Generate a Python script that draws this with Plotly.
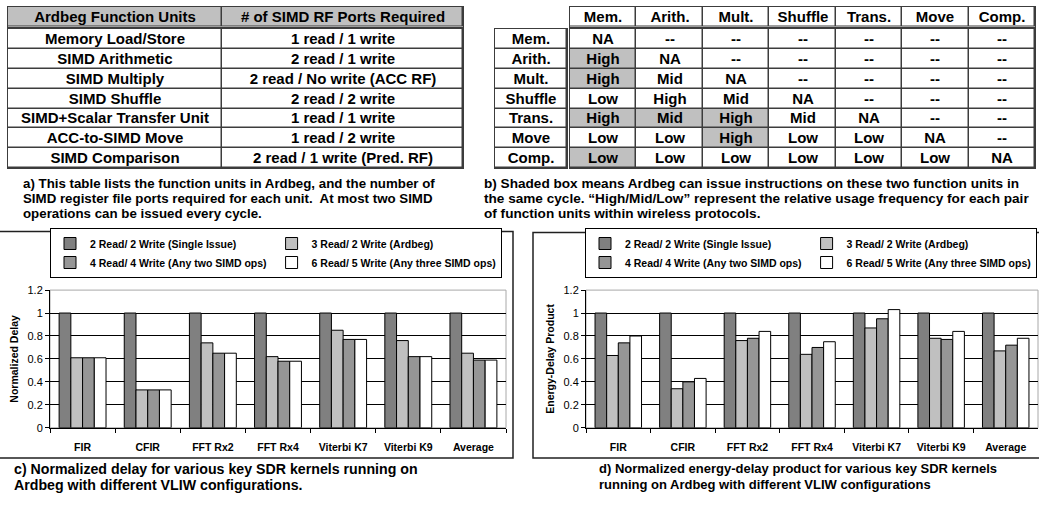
import numpy as np
import plotly.graph_objects as go

W, H = 1039, 506
FONT = "Liberation Sans, Arial, sans-serif"

# ---------------- data ----------------
kernels = ["FIR", "CFIR", "FFT Rx2", "FFT Rx4", "Viterbi K7", "Viterbi K9", "Average"]
series_names = [
    "2 Read/ 2 Write (Single Issue)",
    "3 Read/ 2 Write (Ardbeg)",
    "4 Read/ 4 Write (Any two SIMD ops)",
    "6 Read/ 5 Write (Any three SIMD ops)",
]
series_colors = ["#808080", "#c0c0c0", "#969696", "#ffffff"]

delay_2r2w = [1.00, 1.00, 1.00, 1.00, 1.00, 1.00, 1.00]
delay_3r2w = [0.61, 0.33, 0.74, 0.62, 0.85, 0.76, 0.65]
delay_4r4w = [0.61, 0.33, 0.65, 0.58, 0.77, 0.62, 0.59]
delay_6r5w = [0.61, 0.33, 0.65, 0.58, 0.77, 0.62, 0.59]

edp_2r2w = [1.00, 1.00, 1.00, 1.00, 1.00, 1.00, 1.00]
edp_3r2w = [0.63, 0.34, 0.76, 0.64, 0.87, 0.78, 0.67]
edp_4r4w = [0.74, 0.40, 0.78, 0.70, 0.95, 0.77, 0.72]
edp_6r5w = [0.80, 0.43, 0.84, 0.75, 1.03, 0.84, 0.78]

ports_headers = ["Ardbeg Function Units", "# of SIMD RF Ports Required"]
fu_names = [
    "Memory Load/Store", "SIMD Arithmetic", "SIMD Multiply", "SIMD Shuffle",
    "SIMD+Scalar Transfer Unit", "ACC-to-SIMD Move", "SIMD Comparison",
]
fu_ports = [
    "1 read / 1 write", "2 read / 1 write", "2 read / No write (ACC RF)",
    "2 read / 2 write", "1 read / 1 write", "1 read / 2 write",
    "2 read / 1 write (Pred. RF)",
]

unit_abbr = ["Mem.", "Arith.", "Mult.", "Shuffle", "Trans.", "Move", "Comp."]
pair_usage = [
    ["NA", "--", "--", "--", "--", "--", "--"],
    ["High", "NA", "--", "--", "--", "--", "--"],
    ["High", "Mid", "NA", "--", "--", "--", "--"],
    ["Low", "High", "Mid", "NA", "--", "--", "--"],
    ["High", "Mid", "High", "Mid", "NA", "--", "--"],
    ["Low", "Low", "High", "Low", "Low", "NA", "--"],
    ["Low", "Low", "Low", "Low", "Low", "Low", "NA"],
]
# 1 = both units can issue in the same cycle (shaded)
dual_issue = [
    [0, 0, 0, 0, 0, 0, 0],
    [1, 0, 0, 0, 0, 0, 0],
    [1, 0, 0, 0, 0, 0, 0],
    [0, 0, 0, 0, 0, 0, 0],
    [1, 1, 1, 0, 0, 0, 0],
    [0, 0, 1, 0, 0, 0, 0],
    [1, 0, 0, 0, 0, 0, 0],
]

caption_a = [
    "a) This table lists the function units in Ardbeg, and the number of",
    "SIMD register file ports required for each unit.\u00a0 At most two SIMD",
    "operations can be issued every cycle.",
]
caption_b = [
    "b) Shaded box means Ardbeg can issue instructions on these two function units in",
    "the same cycle. \u201cHigh/Mid/Low\u201d represent the relative usage frequency for each pair",
    "of function units within wireless protocols.",
]
caption_c = [
    "c) Normalized delay for various key SDR kernels running on",
    "Ardbeg with different VLIW configurations.",
]
caption_d = [
    "d) Normalized energy-delay product for various key SDR kernels",
    "running on Ardbeg with different VLIW configurations",
]

# ---------------- layout geometry (pixels: left, right, top, bottom) ----------------
BOX_DELAY = (50, 506, 291, 432)
BOX_EDP = (586, 1038, 291, 432)
BOX_A_HEAD = (8, 463, 1, 21)
BOX_A_BODY = (8, 463, 23.5, 166)
BOX_B_HEAD = (570, 1035, 1, 21)
BOX_B_ROWS = (495, 567, 23.5, 166)
BOX_B_BODY = (570, 1035, 23.5, 166)
A_COL_WIDTHS = [214, 241]
GRID_GAP = 1.5
GRID_COLOR = "#3c3c3c"
SHADE = "#c0c0c0"


def xdom(box):
    return [box[0] / W, box[1] / W]


def ydom(box):
    return [1 - box[3] / H, 1 - box[2] / H]


fig = go.Figure()

# ---------------- bar charts ----------------
delay_series = [delay_2r2w, delay_3r2w, delay_4r4w, delay_6r5w]
edp_series = [edp_2r2w, edp_3r2w, edp_4r4w, edp_6r5w]

for i, (name, color, vals) in enumerate(zip(series_names, series_colors, delay_series)):
    fig.add_trace(go.Bar(
        x=kernels, y=vals, name=name,
        marker=dict(color=color, line=dict(color="black", width=1)),
        legend="legend", legendgroup="c%d" % (i % 2),
        xaxis="x", yaxis="y", hoverinfo="skip",
    ))
for i, (name, color, vals) in enumerate(zip(series_names, series_colors, edp_series)):
    fig.add_trace(go.Bar(
        x=kernels, y=vals, name=name,
        marker=dict(color=color, line=dict(color="black", width=1)),
        legend="legend2", legendgroup="d%d" % (i % 2),
        xaxis="x2", yaxis="y2", hoverinfo="skip",
    ))


# ---------------- tables (heatmap grids) ----------------
def grid(z, labels, col_widths, xa, ya, size=15):
    edges_x = np.concatenate([[0], np.cumsum(col_widths)])
    edges_y = np.arange(len(labels) + 1)
    return go.Heatmap(
        z=z, x=edges_x, y=edges_y, text=labels,
        texttemplate="<b>%{text}</b>",
        textfont=dict(family=FONT, size=size, color="black"),
        colorscale=[[0, "#ffffff"], [1, SHADE]], zmin=0, zmax=1,
        showscale=False, xgap=GRID_GAP, ygap=GRID_GAP, hoverinfo="skip",
        xaxis=xa, yaxis=ya,
    )


fig.add_trace(grid([[1, 1]], [ports_headers], A_COL_WIDTHS, "x3", "y3"))
fig.add_trace(grid([[0, 0] for _ in fu_names],
                   [[n, p] for n, p in zip(fu_names, fu_ports)],
                   A_COL_WIDTHS, "x4", "y4"))
fig.add_trace(grid([[0] * len(unit_abbr)], [unit_abbr], [1] * len(unit_abbr), "x5", "y5"))
fig.add_trace(grid([[0] for _ in unit_abbr], [[u] for u in unit_abbr], [1], "x6", "y6"))
fig.add_trace(grid(dual_issue, pair_usage, [1] * len(unit_abbr), "x7", "y7"))

table_boxes = {
    3: (BOX_A_HEAD, sum(A_COL_WIDTHS), 1),
    4: (BOX_A_BODY, sum(A_COL_WIDTHS), len(fu_names)),
    5: (BOX_B_HEAD, len(unit_abbr), 1),
    6: (BOX_B_ROWS, 1, len(unit_abbr)),
    7: (BOX_B_BODY, len(unit_abbr), len(unit_abbr)),
}

layout_axes = {}
shapes = []
for k, (box, xmax, nrows) in table_boxes.items():
    common = dict(showgrid=False, zeroline=False, showticklabels=False, ticks="",
                  showline=True, mirror=True, linecolor=GRID_COLOR, linewidth=1,
                  fixedrange=True)
    layout_axes["xaxis%d" % k] = dict(domain=xdom(box), range=[0, xmax],
                                      anchor="y%d" % k, **common)
    layout_axes["yaxis%d" % k] = dict(domain=ydom(box), range=[nrows, 0],
                                      anchor="x%d" % k, **common)
    shapes.append(dict(type="rect", xref="x%d domain" % k, yref="y%d domain" % k,
                       x0=0, x1=1, y0=0, y1=1, fillcolor=GRID_COLOR,
                       line=dict(width=0), layer="below"))

# ---------------- chart axes ----------------
def chart_axes(box, xa, ya, title):
    xax = dict(domain=xdom(box), anchor=ya, type="category",
               showline=True, linecolor="black", linewidth=1,
               ticks="outside", tickson="boundaries", ticklen=4, tickcolor="black",
               tickfont=dict(family=FONT, size=10.5, color="black", weight="bold"),
               ticklabelstandoff=10, showgrid=False, zeroline=False, fixedrange=True)
    yax = dict(domain=ydom(box), anchor=xa, range=[0, 1.2], dtick=0.2,
               showline=True, linecolor="black", linewidth=1,
               ticks="outside", ticklen=4, tickcolor="black",
               tickfont=dict(family=FONT, size=11, color="black"),
               showgrid=True, gridcolor="black", gridwidth=1, zeroline=False,
               title=dict(text=title, standoff=6,
                          font=dict(family=FONT, size=10.5, color="black", weight="bold")),
               fixedrange=True)
    return xax, yax


xa1, ya1 = chart_axes(BOX_DELAY, "x", "y", "Normalized Delay")
xa2, ya2 = chart_axes(BOX_EDP, "x2", "y2", "Energy-Delay Product")

for xr, yr in (("x", "y"), ("x2", "y2")):
    shapes.append(dict(type="rect", xref=xr + " domain", yref=yr + " domain",
                       x0=0, x1=1, y0=0, y1=1, line=dict(color="#a8a8a8", width=1),
                       layer="below"))

# outer frames of the two chart panels
shapes.append(dict(type="rect", xref="paper", yref="paper",
                   x0=-3 / W, x1=513 / W, y0=1 - 463 / H, y1=1 - 231 / H,
                   line=dict(color="#202020", width=1.5)))
shapes.append(dict(type="rect", xref="paper", yref="paper",
                   x0=533 / W, x1=1043 / W, y0=1 - 463 / H, y1=1 - 232 / H,
                   line=dict(color="#202020", width=1.5)))

# ---------------- captions ----------------
annotations = []


def caption(lines, x_px, y_px, pitch, size):
    for i, line in enumerate(lines):
        annotations.append(dict(
            text="<b>%s</b>" % line, xref="paper", yref="paper",
            x=x_px / W, y=1 - (y_px + i * pitch) / H,
            xanchor="left", yanchor="middle", showarrow=False,
            font=dict(family=FONT, size=size, color="black"),
        ))


caption(caption_a, 21, 182, 15.5, 13.3)
caption(caption_b, 482, 182, 15.5, 13.6)
caption(caption_c, 12, 474, 16.5, 14.2)
caption(caption_d, 597, 474, 16.5, 13)

legend_style = dict(
    orientation="h", traceorder="grouped", bgcolor="white",
    bordercolor="black", borderwidth=1,
    font=dict(family=FONT, size=10.5, color="black", weight="bold"),
    xanchor="center", yanchor="middle", xref="paper", yref="paper",
)

fig.update_layout(
    width=W, height=H, margin=dict(l=0, r=0, t=0, b=0, pad=0),
    paper_bgcolor="white", plot_bgcolor="white",
    barmode="group", bargap=0.28, bargroupgap=0,
    showlegend=True,
    legend=dict(x=276 / W, y=1 - 253 / H, **legend_style),
    legend2=dict(x=811 / W, y=1 - 253 / H, **legend_style),
    xaxis=xa1, yaxis=ya1, xaxis2=xa2, yaxis2=ya2,
    shapes=shapes, annotations=annotations,
    font=dict(family=FONT, color="black"),
    **layout_axes,
)

fig.write_html("out.html")
